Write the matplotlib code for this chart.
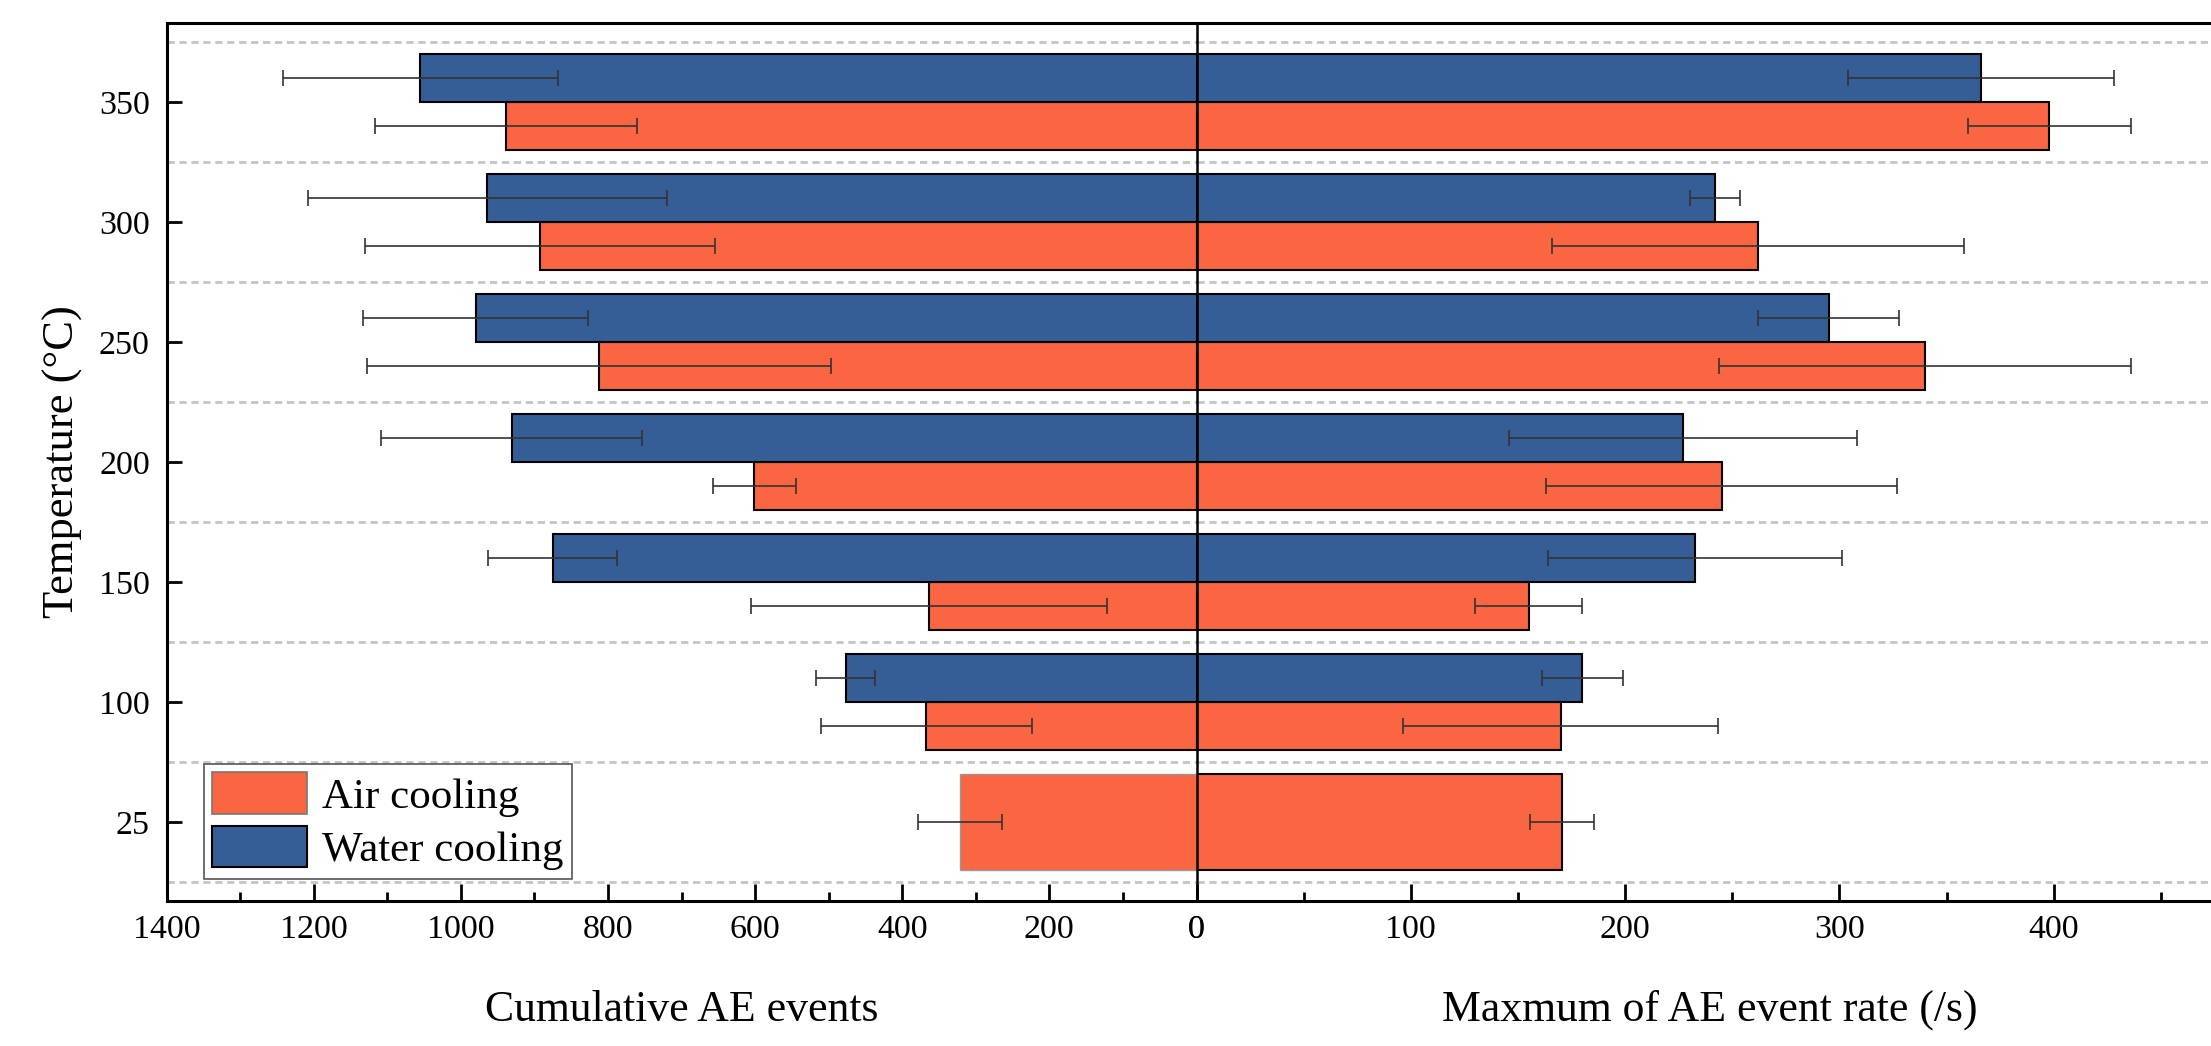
import numpy as np
import matplotlib
matplotlib.use("Agg")
import matplotlib.pyplot as plt
from matplotlib.patches import Patch
from matplotlib.ticker import MultipleLocator

# ---------------- data ----------------
temps = ['25', '100', '150', '200', '250', '300', '350']
air_events = [322, 367, 363, 601, 812, 892, 938]
air_events_err = [57, 144, 242, 56, 315, 238, 178]
water_events = [np.nan, 477, 875, 931, 980, 964, 1055]
water_events_err = [np.nan, 40, 88, 177, 153, 244, 187]
air_rate = [170.5, 170, 155, 245, 340, 262, 398]
air_rate_err = [15, 73.5, 25, 82, 96, 96, 38]
water_rate = [np.nan, 180, 232.5, 227, 295, 242, 366]
water_rate_err = [np.nan, 19, 68.5, 81, 33, 11.5, 62]

plt.rcParams['font.family'] = ['Liberation Serif', 'DejaVu Serif']

ORANGE = '#FA6542'
BLUE = '#365E96'
W, H = 2211, 1046

fig = plt.figure(figsize=(W / 100, H / 100), dpi=100)
x0, xc, ytop, ybot = 166.5, 1196.5, 23, 901
axL = fig.add_axes([x0 / W, (H - ybot) / H, (xc - x0) / W, (ybot - ytop) / H])
axR = fig.add_axes([xc / W, (H - ybot) / H, 1028.6 / W, (ybot - ytop) / H], sharey=axL)
axR.patch.set_visible(False)

n = len(temps)
idx = np.arange(n)
single = np.isnan(np.array(water_events, dtype=float))
air_pos = np.where(single, idx, idx - 0.2)
air_h = np.where(single, 0.8, 0.4)
wat_pos = idx + 0.2

for k, (ax, a, ae, w, we) in enumerate([(axL, air_events, air_events_err, water_events, water_events_err),
                                        (axR, air_rate, air_rate_err, water_rate, water_rate_err)]):
    edge = ['#999999' if (k == 0 and s) else 'black' for s in single]
    lws = [1.0 if (k == 0 and s) else 1.5 for s in single]
    ax.barh(air_pos, a, height=air_h, color=ORANGE, edgecolor=edge, linewidth=lws, zorder=2)
    ax.barh(wat_pos, w, height=0.4, color=BLUE, edgecolor='black', linewidth=1.5, zorder=2)
    ax.errorbar(a, air_pos, xerr=ae, fmt='none', ecolor='#333333', elinewidth=1.2,
                capsize=6, capthick=1.2, zorder=4)
    ax.errorbar(w, wat_pos, xerr=we, fmt='none', ecolor='#333333', elinewidth=1.2,
                capsize=6, capthick=1.2, zorder=4)
    ax.set_yticks(np.arange(-0.5, n, 1), minor=True)
    ax.grid(axis='y', which='minor', color='#c4c4c4', linestyle=(0, (2.6, 1.7)), linewidth=2.0, zorder=0)
    ax.set_axisbelow(True)
    for s in ax.spines.values():
        s.set_linewidth(2.2)

axL.set_ylim(-0.658, n - 1 + 0.658)
axL.set_yticks(idx, temps)
axL.set_xlim(1400, 0)
axL.xaxis.set_major_locator(MultipleLocator(200))
axL.xaxis.set_minor_locator(MultipleLocator(100))
axL.spines['right'].set_visible(False)
axL.tick_params(axis='x', which='major', direction='in', length=12.5, width=2, labelsize=24.5, pad=10)
axL.tick_params(axis='x', which='minor', direction='in', length=6.5, width=2)
axL.tick_params(axis='y', which='major', direction='in', length=11, width=2, labelsize=24.5, pad=12)
axL.tick_params(axis='y', which='minor', length=0)

axR.set_xlim(0, 480)
axR.xaxis.set_major_locator(MultipleLocator(100))
axR.xaxis.set_minor_locator(MultipleLocator(50))
axR.spines['right'].set_visible(False)
axR.spines['left'].set_linewidth(1.8)
axR.spines['left'].set_zorder(5)
axR.tick_params(axis='x', which='major', direction='in', length=12.5, width=2, labelsize=24.5, pad=10)
axR.tick_params(axis='x', which='minor', direction='in', length=6.5, width=2)
axR.tick_params(axis='y', which='both', left=False, labelleft=False)

fig.text(682 / W, 1 - 1010 / H, 'Cumulative AE events', ha='center', va='center', fontsize=31.5)
fig.text(1710 / W, 1 - 1010 / H, 'Maxmum of AE event rate (/s)', ha='center', va='center', fontsize=31.5)
fig.text(63 / W, 1 - 462 / H, 'Temperature (°C)', ha='center', va='center', rotation=90, fontsize=32)

handles = [Patch(facecolor=ORANGE, edgecolor='#777777', linewidth=1.2, label='Air cooling'),
           Patch(facecolor=BLUE, edgecolor='black', linewidth=1.5, label='Water cooling')]
leg = axL.legend(handles=handles, loc='lower left', bbox_to_anchor=(0.036, 0.025),
                 borderaxespad=0, fontsize=31, frameon=True, fancybox=False,
                 edgecolor='#555555', framealpha=1, handlelength=2.2, handleheight=1.1,
                 handletextpad=0.35, borderpad=0.2, labelspacing=0.22)
leg.get_frame().set_linewidth(1.2)
leg.set_zorder(6)

fig.savefig('out.png', dpi=100)
